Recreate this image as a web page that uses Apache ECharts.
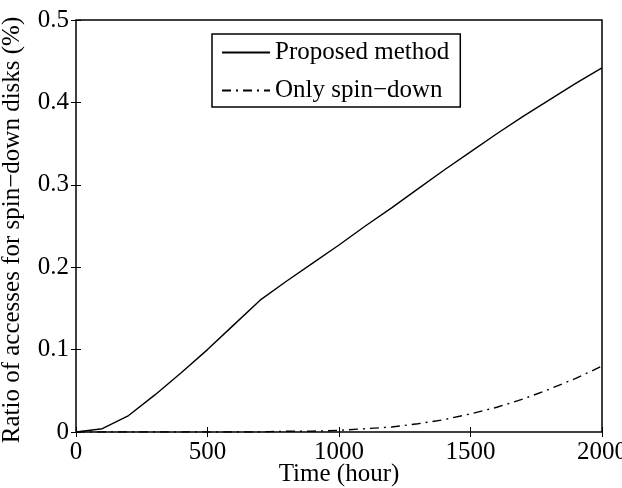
<!DOCTYPE html>
<html>
<head>
<meta charset="utf-8">
<script src="https://cdn.jsdelivr.net/npm/echarts@6/dist/echarts.min.js"></script>
<style>
    html, body { margin: 0; padding: 0; background: #fff; }
    #chart { width: 622px; height: 488px; }
</style>
</head>
<body>
<div id="chart"></div>
<script>
// time in hours
const hours = [0, 100, 200, 300, 400, 500, 600, 700, 800, 900, 1000,
    1100, 1200, 1300, 1400, 1500, 1600, 1700, 1800, 1900, 2000];
// ratio (%)
const proposed = [0, 0.004, 0.02, 0.045, 0.072, 0.1, 0.13, 0.16, 0.183, 0.205, 0.227,
    0.25, 0.272, 0.295, 0.318, 0.34, 0.362, 0.383, 0.403, 0.423, 0.442];
const spinDown = [0, 0, 0, 0, 0, 0, 0, 0, 0.001, 0.001, 0.002,
    0.004, 0.006, 0.01, 0.015, 0.022, 0.03, 0.04, 0.052, 0.065, 0.08];
const xTicks = [0, 500, 1000, 1500, 2000];
const yTicks = [0, 0.1, 0.2, 0.3, 0.4, 0.5];

const font = 'Liberation Serif';
const pairs = (ys) => hours.map((h, i) => [h, ys[i]]);

let chart = echarts.init(document.getElementById('chart'));

const tickInside = { show: true, inside: true, length: 5, lineStyle: { color: '#000', width: 1 } };
const xBase = {
    type: 'value', min: xTicks[0], max: xTicks[xTicks.length - 1], interval: 500,
    splitLine: { show: false },
    axisLine: { show: false },
    axisTick: tickInside
};
const yBase = {
    type: 'value', min: yTicks[0], max: yTicks[yTicks.length - 1], interval: 0.1,
    splitLine: { show: false },
    axisLine: { show: false },
    axisTick: tickInside
};

chart.setOption({
    animation: false,
    backgroundColor: '#fff',
    textStyle: { fontFamily: font, color: '#000' },
    grid: {
        left: 76, right: 20, top: 20, bottom: 56,
        outerBoundsMode: 'none',
        show: true, borderColor: '#000', borderWidth: 1.5, backgroundColor: '#fff'
    },
    legend: {
        orient: 'vertical',
        left: 212, top: 34,
        padding: [6, 11, 4, 9],
        itemGap: 13,
        itemWidth: 48, itemHeight: 14,
        borderColor: '#000', borderWidth: 1.5,
        backgroundColor: '#fff',
        itemStyle: { opacity: 0 },
        textStyle: { fontFamily: font, fontSize: 25, color: '#000' },
        data: ['Proposed method', 'Only spin\u2212down']
    },
    xAxis: [
        Object.assign({}, xBase, {
            position: 'bottom',
            name: 'Time (hour)', nameLocation: 'middle', nameGap: 30,
            nameMoveOverlap: false,
            nameTextStyle: { fontFamily: font, fontSize: 25, color: '#000' },
            axisLabel: {
                fontFamily: font, fontSize: 25, color: '#000', margin: 8,
                formatter: (v) => String(v)
            }
        }),
        Object.assign({}, xBase, { position: 'top', axisLabel: { show: false } })
    ],
    yAxis: [
        Object.assign({}, yBase, {
            position: 'left',
            name: 'Ratio of accesses for spin\u2212down disks (%)',
            nameLocation: 'middle', nameGap: 51,
            nameTextStyle: { fontFamily: font, fontSize: 25, color: '#000', padding: [0, 8, 0, 0] },
            axisLabel: {
                fontFamily: font, fontSize: 25, color: '#000', margin: 7,
                formatter: (v) => (v === 0 ? '0' : v.toFixed(1))
            }
        }),
        Object.assign({}, yBase, { position: 'right', axisLabel: { show: false } })
    ],
    series: [
        {
            name: 'Proposed method', type: 'line', xAxisIndex: 0, yAxisIndex: 0,
            data: pairs(proposed), showSymbol: false, symbol: 'none',
            lineStyle: { color: '#000', width: 1.4 },
            itemStyle: { color: '#000' }
        },
        {
            name: 'Only spin\u2212down', type: 'line', xAxisIndex: 0, yAxisIndex: 0,
            data: pairs(spinDown), showSymbol: false, symbol: 'none',
            lineStyle: { color: '#000', width: 1.4, type: [9, 5, 2, 5] },
            itemStyle: { color: '#000' }
        }
    ]
});

window.addEventListener('resize', () => chart.resize());
</script>
</body>
</html>
